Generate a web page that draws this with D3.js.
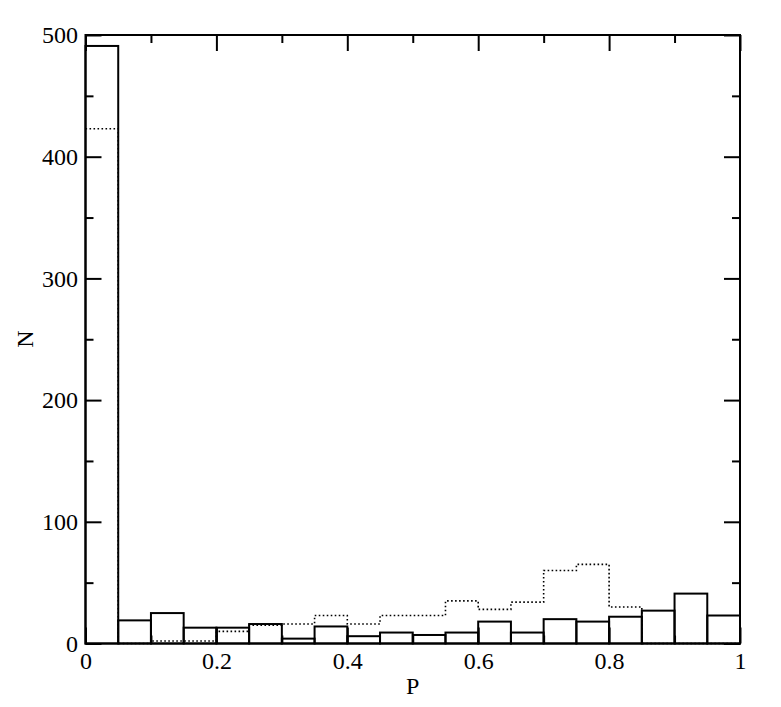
<!DOCTYPE html>
<html>
<head>
<meta charset="utf-8">
<script src="https://cdn.jsdelivr.net/npm/d3@7"></script>
<style>
  body { margin: 0; background: #fff; }
  text { font-family: "Liberation Serif", "Times New Roman", serif; }
</style>
</head>
<body>
<div class="chart"></div>
<script>
/* Data
============================================= */
const binEdges = d3.range(0, 1.0001, 0.05);
const solidCounts  = [491, 19, 25, 13, 13, 16, 4, 14, 6, 9, 7, 9, 18, 9, 20, 18, 22, 27, 41, 23];
const dottedCounts = [423, 0, 2, 2, 10, 15, 16, 23, 16, 23, 23, 35, 28, 34, 60, 65, 30, 0, 0, 0];
const xMajorTicks = [0, 0.2, 0.4, 0.6, 0.8, 1];
const xMinorTicks = [0.1, 0.3, 0.5, 0.7, 0.9];
const yMajorTicks = [0, 100, 200, 300, 400, 500];
const yMinorTicks = [50, 150, 250, 350, 450];

/* Layout
============================================= */
const SVG_WIDTH = 781;
const SVG_HEIGHT = 707;
var margin = { top: 35, left: 85.5, right: 41, bottom: 63.5 };
var width = SVG_WIDTH - margin.left - margin.right;
var height = SVG_HEIGHT - margin.top - margin.bottom;

var svg = d3.select(".chart")
    .append("svg")
    .attr("width", SVG_WIDTH)
    .attr("height", SVG_HEIGHT)
    .append("g")
    .attr("transform", `translate(${margin.left}, ${margin.top})`);

var xScale = d3.scaleLinear().domain([0, 1]).range([0, width]);
var yScale = d3.scaleLinear().domain([0, 500]).range([height, 0]);

// solid histogram: one outlined rectangle per bin
svg.append("g").selectAll("rect")
    .data(solidCounts)
    .enter()
    .append("rect")
    .attr("x", (d, i) => xScale(binEdges[i]))
    .attr("y", d => yScale(d))
    .attr("width", (d, i) => xScale(binEdges[i + 1]) - xScale(binEdges[i]))
    .attr("height", d => height - yScale(d))
    .attr("fill", "none")
    .attr("stroke", "#000")
    .attr("stroke-width", 2);

// dotted histogram: step outline
var stepPoints = dottedCounts.map((d, i) => [binEdges[i], d]);
stepPoints.push([1, dottedCounts[dottedCounts.length - 1]]);
var stepLine = d3.line()
    .x(d => xScale(d[0]))
    .y(d => yScale(d[1]))
    .curve(d3.curveStepAfter);

svg.append("path")
    .datum(stepPoints)
    .attr("d", stepLine)
    .attr("fill", "none")
    .attr("stroke", "#000")
    .attr("stroke-width", 1.6)
    .attr("stroke-dasharray", "1.6,2.4");

// axes (ticks point inward on all four sides)
function styleAxis(g) {
    g.select(".domain").remove();
    g.selectAll("line").attr("stroke", "#000").attr("stroke-width", 2);
    g.selectAll("text").attr("font-size", 24).attr("fill", "#000")
        .style("font-family", "'Liberation Serif', 'Times New Roman', serif");
}

var fmt = d3.format("~g");

svg.append("g")
    .attr("transform", `translate(0, ${height})`)
    .call(d3.axisBottom(xScale).tickValues(xMajorTicks).tickSize(-16).tickPadding(8.5).tickFormat(fmt))
    .call(styleAxis);
svg.append("g")
    .attr("transform", `translate(0, ${height})`)
    .call(d3.axisBottom(xScale).tickValues(xMinorTicks).tickSize(-8).tickFormat(""))
    .call(styleAxis);
svg.append("g")
    .call(d3.axisTop(xScale).tickValues(xMajorTicks).tickSize(-16).tickFormat(""))
    .call(styleAxis);
svg.append("g")
    .call(d3.axisTop(xScale).tickValues(xMinorTicks).tickSize(-8).tickFormat(""))
    .call(styleAxis);

svg.append("g")
    .call(d3.axisLeft(yScale).tickValues(yMajorTicks).tickSize(-16).tickPadding(7.5).tickFormat(fmt))
    .call(styleAxis);
svg.append("g")
    .call(d3.axisLeft(yScale).tickValues(yMinorTicks).tickSize(-8).tickFormat(""))
    .call(styleAxis);
svg.append("g")
    .attr("transform", `translate(${width}, 0)`)
    .call(d3.axisRight(yScale).tickValues(yMajorTicks).tickSize(-16).tickFormat(""))
    .call(styleAxis);
svg.append("g")
    .attr("transform", `translate(${width}, 0)`)
    .call(d3.axisRight(yScale).tickValues(yMinorTicks).tickSize(-8).tickFormat(""))
    .call(styleAxis);

// frame
svg.append("rect")
    .attr("x", 0)
    .attr("y", 0)
    .attr("width", width)
    .attr("height", height)
    .attr("fill", "none")
    .attr("stroke", "#000")
    .attr("stroke-width", 2);

// axis labels
svg.append("text")
    .attr("x", width / 2)
    .attr("y", height + 50.5)
    .attr("text-anchor", "middle")
    .attr("font-size", 24)
    .text("P");

svg.append("text")
    .attr("transform", `translate(${25 - margin.left + 8}, ${339 - margin.top}) rotate(-90)`)
    .attr("text-anchor", "middle")
    .attr("font-size", 24)
    .text("N");
</script>
</body>
</html>
